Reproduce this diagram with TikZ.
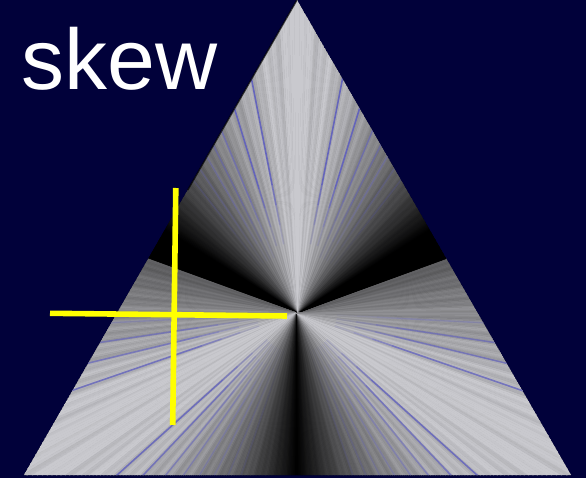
\documentclass[tikz,border=0pt]{standalone}
\usepackage{fontspec}
\setmainfont{Liberation Sans}
\usetikzlibrary{calc}
\definecolor{navy}{RGB}{1,1,58}
\definecolor{rayhi}{RGB}{201,201,206}
\definecolor{rayline}{RGB}{95,95,190}
\definecolor{marker}{RGB}{255,255,0}
\tikzset{
  markerline/.style={draw=marker, line width=5.6pt},
  bluray/.style={draw=rayline, line width=1.6pt},
}
% a ray at angle #1 (degrees) from the centre, fading in from radius #2, opacity #3
\newcommand{\fanray}[3]{%
  \foreach \k/\f in {-40/0.2,-20/0.45,0/0.75,20/1} {%
    \pgfmathsetmacro{\rs}{#2+\k}%
    \pgfmathsetmacro{\re}{\k==20 ? 700 : #2+\k+20}%
    \pgfmathsetmacro{\op}{#3*\f}%
    \draw[bluray, opacity=\op]
      ({297+\rs*cos(#1)},{313-\rs*sin(#1)}) -- ({297+\re*cos(#1)},{313-\re*sin(#1)});
  }%
}
\begin{document}
\begin{tikzpicture}[x=1pt,y=-1pt]
% page and background
\fill[navy] (0,0) rectangle (586,478);
\useasboundingbox (0,0) rectangle (586,478);

\coordinate (apex)  at (297,0);
\coordinate (left)  at (24,475);
\coordinate (right) at (571,475);
\coordinate (c)     at (297,313);

\begin{scope}
  \clip (apex) -- (left) -- (right) -- cycle;
  \fill[black] (apex) -- (left) -- (right) -- cycle;
  % fan of thin wedges, grey level depending on the direction
  \foreach \t in {0,0.5,...,359.5} {
    \pgfmathsetmacro{\a}{180-abs(180-mod(\t+0.25+270,360))}
    \pgfmathsetmacro{\lu}{1-(max(min(\a,58),0.01)/58)^1.25}
    \pgfmathsetmacro{\lm}{0.45+0.55*(\a-70)/45}
    \pgfmathsetmacro{\ll}{1-(max(\a-122,0.01)/58)^1.5}
    \pgfmathsetmacro{\lb}{\a<58 ? \lu : (\a<70 ? 0 : (\a<115 ? \lm : (\a<122 ? 1 : \ll)))}
    % fine radial striations
    \pgfmathsetmacro{\n}{0.05*sin(mod(\a*4,360)*40)+0.04*sin(mod(\a*2,360)*31)}
    \pgfmathsetmacro{\l}{max(0,min(1,\lb*(1+\n)))}
    \pgfmathsetmacro{\p}{100*\l}
    \filldraw[fill=rayhi!\p!black, draw=rayhi!\p!black, line width=0.5pt]
      (c) -- ({297+700*cos(\t)},{313-700*sin(\t)})
          -- ({297+700*cos(\t+0.5)},{313-700*sin(\t+0.5)}) -- cycle;
  }
  % bluish rays, mirrored about the vertical axis
  \foreach \a/\r/\o in {11/110/0.9,17/110/0.9,22.5/100/0.55,26.5/100/0.45,30/100/0.35,34/100/0.25,38/100/0.2,
                     93/80/0.3,98.5/80/0.6,103.5/80/0.65,109/80/0.75,
                     132/80/0.8,136.5/80/0.7,141/80/0.5,145/80/0.4,149/80/0.3,153/80/0.25,157/80/0.2,161/80/0.15} {
    \fanray{90+\a}{\r}{\o}
    \fanray{90-\a}{\r}{\o}
  }
\end{scope}
% shadowed upper part of the left side
\draw[black, line width=1.4pt, opacity=0.7] (apex) -- ($(apex)!0.4!(left)$);

% title
\node[anchor=base west, inner sep=0pt, text=white,
      font=\fontsize{86}{86}\selectfont] (title) at (21,90) {skew};

% yellow cross
\coordinate (h1) at (50,313.3);
\coordinate (h2) at (287,316);
\coordinate (v1) at (175.8,188);
\coordinate (v2) at (172.7,425);
\draw[markerline] (h1) -- (h2);
\draw[markerline] (v1) -- (v2);
\end{tikzpicture}
\end{document}
